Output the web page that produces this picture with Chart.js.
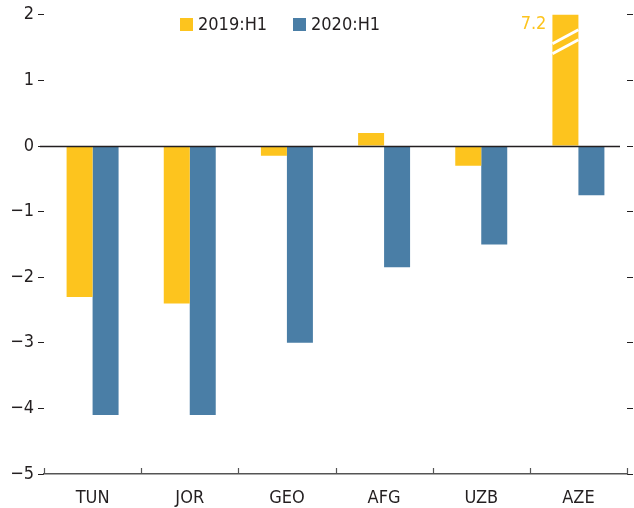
<!DOCTYPE html>
<html>
<head>
<meta charset="utf-8">
<script src="https://cdn.jsdelivr.net/npm/chart.js@4"></script>
<style>
    html, body { margin: 0; padding: 0; background: #fff; }
    #wrap { width: 634px; height: 508px; position: relative; }
</style>
</head>
<body>
<div id="wrap"><canvas id="chart"></canvas></div>
<script>
// Data
const categories = ['TUN', 'JOR', 'GEO', 'AFG', 'UZB', 'AZE'];
const seriesNames = ['2019:H1', '2020:H1'];
const values2019 = [-2.3, -2.4, -0.15, 0.2, -0.3, 7.2];
const values2020 = [-4.1, -4.1, -3.0, -1.85, -1.5, -0.75];
const yTicks = [2, 1, 0, -1, -2, -3, -4, -5];

const yellow = '#FDC41E';
const blue = '#4A7EA6';
const fontFamily = "'DejaVu Sans Condensed', 'Liberation Sans', Arial, sans-serif";

const fmt = (v) => (v < 0 ? '\u2212' + Math.abs(v) : String(v));

// zero line, upward x ticks, broken bar mark, value label and inline legend
const decorations = {
    id: 'decorations',
    afterDatasetsDraw(chart) {
        const ctx = chart.ctx;
        const area = chart.chartArea;
        const x = chart.scales.x;
        const y = chart.scales.y;
        ctx.save();

        // zero line
        const y0 = Math.round(y.getPixelForValue(0)) + 0.5;
        ctx.strokeStyle = '#231f20';
        ctx.lineWidth = 1.5;
        ctx.beginPath();
        ctx.moveTo(area.left - 4, y0);
        ctx.lineTo(area.right - 7, y0);
        ctx.stroke();

        // category separators on bottom axis
        const yb = Math.round(y.getPixelForValue(-5));
        ctx.strokeStyle = '#555';
        ctx.lineWidth = 1.2;
        for (let i = 0; i <= categories.length; i++) {
            const px = Math.round(x.getPixelForValue(i - 0.5)) + 0.5;
            ctx.beginPath();
            ctx.moveTo(px, yb);
            ctx.lineTo(px, yb - 6);
            ctx.stroke();
        }

        // broken-scale bar (value beyond axis max)
        const meta = chart.getDatasetMeta(0);
        values2019.forEach((v, i) => {
            if (v <= y.max) return;
            const bar = meta.data[i];
            const half = bar.width / 2;
            const top = area.top;
            ctx.strokeStyle = '#fff';
            ctx.lineWidth = 3;
            [29, 39].forEach(off => {
                ctx.beginPath();
                ctx.moveTo(bar.x - half, top + off);
                ctx.lineTo(bar.x + half, top + off - 14);
                ctx.stroke();
            });
            ctx.fillStyle = yellow;
            ctx.font = '18px ' + fontFamily;
            ctx.textAlign = 'right';
            ctx.textBaseline = 'top';
            ctx.fillText(String(v), bar.x - half - 6, top + 1);
        });

        // legend inside plot
        const items = [
            { label: seriesNames[0], color: yellow, left: 180 },
            { label: seriesNames[1], color: blue, left: 293 }
        ];
        ctx.font = '18px ' + fontFamily;
        ctx.textAlign = 'left';
        ctx.textBaseline = 'middle';
        items.forEach(it => {
            ctx.fillStyle = it.color;
            ctx.fillRect(it.left, 18, 13, 13);
            ctx.fillStyle = '#231f20';
            ctx.fillText(it.label, it.left + 18, 25);
        });

        ctx.restore();
    }
};

new Chart(document.getElementById('chart'), {
    type: 'bar',
    data: {
        labels: categories,
        datasets: [
            { label: seriesNames[0], data: values2019, backgroundColor: yellow, categoryPercentage: 0.535, barPercentage: 1 },
            { label: seriesNames[1], data: values2020, backgroundColor: blue, categoryPercentage: 0.535, barPercentage: 1 }
        ]
    },
    options: {
        responsive: true,
        maintainAspectRatio: false,
        animation: false,
        layout: { padding: { top: 4, right: 0, bottom: 0, left: 0 } },
        plugins: { legend: { display: false }, tooltip: { enabled: false } },
        scales: {
            x: {
                afterFit: (s) => { s.height = 34; },
                grid: { display: false },
                border: { display: true, color: '#555', width: 1.5 },
                ticks: { color: '#231f20', font: { family: fontFamily, size: 18 }, padding: 6 }
            },
            y: {
                min: -5,
                max: 2,
                afterBuildTicks: (s) => { s.ticks = yTicks.map(v => ({ value: v })); },
                afterFit: (s) => { s.width = 44; },
                grid: { drawOnChartArea: false, drawTicks: true, tickLength: 6, color: '#231f20' },
                border: { display: false },
                ticks: { color: '#231f20', font: { family: fontFamily, size: 18 }, padding: 4, callback: (v) => fmt(v) }
            },
            y2: {
                position: 'right',
                min: -5,
                max: 2,
                afterBuildTicks: (s) => { s.ticks = yTicks.map(v => ({ value: v })); },
                afterFit: (s) => { s.width = 7; },
                grid: { drawOnChartArea: false, drawTicks: true, tickLength: 6, color: '#231f20' },
                border: { display: false },
                ticks: { display: false }
            }
        }
    },
    plugins: [decorations]
});
</script>
</body>
</html>
